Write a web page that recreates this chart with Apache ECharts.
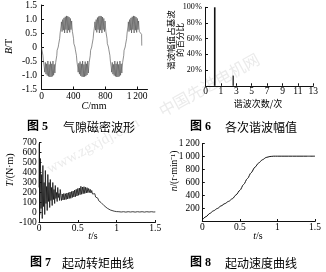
<!DOCTYPE html>
<html><head><meta charset="utf-8">
<script src="https://cdn.jsdelivr.net/npm/echarts@6/dist/echarts.min.js"></script>
<style>html,body{margin:0;padding:0;background:#fff}#c{width:326px;height:272px}</style>
</head><body><div id="c"></div>
<script>
// ---------- Fig.5 air-gap flux density B (T) vs circumference C (mm) ----------
const fluxC = [
  0,4,14,18,24,32,36,40,48,56,64,72,80,88,96,104,112,120,128,136,144,152,160,168,172,178,186,192,196,206,
  210,214,224,228,234,242,246,250,258,266,274,282,290,298,306,314,322,330,338,346,354,362,370,378,382,388,396,402,406,416,
  420,424,434,438,444,452,456,460,468,476,484,492,500,508,516,524,532,540,548,556,564,572,580,588,592,598,606,612,616,626,
  630,634,644,648,654,662,666,670,678,686,694,702,710,718,726,734,742,750,758,766,774,782,790,798,802,808,816,822,826,836,
  840,844,854,858,864,872,876,880,888,896,904,912,920,928,936,944,952,960,968,976,984,992,1000,1008,1012,1018,1026,1032,1036,1046,
  1050,1054,1064,1068,1074,1082,1086,1090,1098,1106,1114,1122,1130,1138,1146,1154,1162,1170,1178,1186,1194,1202,1210,1218,1222,1228,1236,1256,1258
];
const fluxB = [
  0,-0.08,-0.12,-0.3,-0.5,-0.55,-0.75,-0.9,-0.55,-0.97,-0.6,-1.02,-0.5,-1.05,-0.62,-1.07,-0.52,-1.07,-0.6,-1.05,-0.5,-1.01,-0.62,-0.93,-0.75,-0.55,-0.5,-0.3,-0.12,-0.08,
  0,0.08,0.12,0.3,0.5,0.55,0.75,0.9,0.55,0.98,0.6,1.04,0.5,1.08,0.62,1.11,0.5,1.1,0.6,1.07,0.52,1.02,0.62,0.93,0.75,0.55,0.5,0.3,0.12,0.08,
  0,-0.08,-0.12,-0.3,-0.5,-0.55,-0.75,-0.9,-0.58,-0.97,-0.52,-1.03,-0.6,-1.06,-0.5,-1.07,-0.62,-1.06,-0.52,-1.04,-0.6,-1.0,-0.5,-0.93,-0.75,-0.55,-0.5,-0.3,-0.12,-0.08,
  0,0.08,0.12,0.3,0.5,0.55,0.75,0.9,0.6,0.98,0.52,1.05,0.62,1.09,0.5,1.11,0.6,1.1,0.5,1.07,0.62,1.02,0.55,0.93,0.75,0.55,0.5,0.3,0.12,0.08,
  0,-0.08,-0.12,-0.3,-0.5,-0.55,-0.75,-0.9,-0.55,-0.97,-0.62,-1.02,-0.5,-1.05,-0.6,-1.07,-0.52,-1.07,-0.62,-1.05,-0.5,-1.01,-0.6,-0.93,-0.75,-0.55,-0.5,-0.3,-0.12,-0.08,
  0,0.08,0.12,0.3,0.5,0.55,0.75,0.9,0.55,0.98,0.6,1.04,0.5,1.08,0.62,1.11,0.5,1.1,0.6,1.07,0.52,1.02,0.62,0.93,0.75,0.55,0.5,0.45,0.05
];
const fluxCTicks = [0,400,800,1200];
const fluxCTickLabels = ['0','400','800','1\u2009200'];
const fluxBTicks = [-1.5,-1,-0.5,0,0.5,1,1.5];
const fluxBTickLabels = ['-1.5','-1.0','-0.5','0','0.5','1.0','1.5'];

// ---------- Fig.6 harmonic amplitude (% of fundamental) ----------
// bar positions in axis-slot units (slots labelled 0,1,3,5,...,13)
const harmonicSlots = [0.6, 1.8];
const harmonicPct = [101, 13];
const harmonicSlotTicks = [0,1,2,3,4,5,6,7];
const harmonicSlotLabels = ['0','1','3','5','7','9','11','13'];
const harmonicPctTicks = [20,40,60,80,100];
const harmonicPctLabels = ['20\u200a%','40\u200a%','60\u200a%','80\u200a%','100\u200a%'];

// ---------- Fig.7 starting torque T (N·m) vs t (s) ----------
const torqueT = [
  0,0.004,0.010,0.018,0.026,0.034,0.042,0.050,0.058,0.066,0.074,0.082,0.090,0.098,0.106,0.114,0.122,0.130,0.138,0.146,
  0.154,0.162,0.170,0.178,0.186,0.194,0.202,0.210,0.218,0.226,0.234,0.242,0.250,0.258,0.266,0.274,0.282,
  0.29,0.30,0.31,0.32,0.33,0.34,0.35,0.36,0.37,0.38,0.39,0.40,0.41,0.42,0.43,0.44,0.45,0.46,0.47,0.48,0.49,0.50,
  0.51,0.52,0.53,0.54,0.55,0.56,0.57,0.58,0.59,0.60,0.61,0.62,0.63,0.64,0.65,0.66,0.67,0.68,0.69,0.70,
  0.71,0.72,0.73,0.74,0.75,0.76,0.77,0.78,0.80,0.82,0.84,0.86,0.88,0.90,0.92,0.94,0.97,1.0,
  1.03,1.06,1.09,1.12,1.15,1.18,1.21,1.24,1.27,1.30,1.33,1.36,1.39,1.42,1.45,1.48,1.5
];
const torqueV = [
  250,690,-20,540,40,380,-60,470,60,300,-20,420,90,260,20,380,110,300,50,330,
  120,250,70,300,130,230,90,270,140,200,110,250,150,190,120,230,170,
  120,185,125,190,128,188,130,195,135,198,140,205,142,210,150,215,155,225,158,232,165,240,
  172,245,178,262,182,255,188,258,190,252,195,248,198,240,200,232,195,220,185,205,
  172,188,155,165,135,142,118,122,100,84,68,55,43,33,25,19,13,9,
  8,5,8,4,8,5,8,4,8,5,8,4,8,5,8,5,6
];
const timeTicks = [0,0.5,1,1.5];
const timeTickLabels = ['0','0.5','1','1.5'];
const torqueTicks = [-100,0,100,200,300,400,500,600,700];
const torqueTickLabels = ['-100','0','100','200','300','400','500','600','700'];

// ---------- Fig.8 starting speed n (r/min) vs t (s) ----------
const speedT = [0,0.05,0.1,0.15,0.2,0.25,0.3,0.35,0.4,0.45,0.5,0.55,0.6,0.65,0.7,0.75,0.8,0.85,0.9,0.95,1.0,1.1,1.2,1.3,1.4,1.5];
const speedN = [25,75,125,165,200,240,275,310,350,410,480,570,660,750,835,900,950,985,1000,1005,1005,1005,1005,1005,1005,1005];
const speedTicks = [200,400,600,800,1000,1200];
const speedTickLabels = ['200','400','600','800','1\u2009000','1\u2009200'];

// ---------- chart ----------
const SERIF = "'Liberation Serif','Noto Sans CJK SC'";
const CJK = "'Noto Sans CJK SC'";
const INK = '#111';

function lookup(ticks, labels){ return v => { const i = ticks.findIndex(t => Math.abs(t - v) < 1e-9); return i < 0 ? '' : labels[i]; }; }
function axis(gridIndex, min, max, ticks, labels, margin, size){
  return {
    type:'value', gridIndex, min, max,
    axisLine:{show:true, onZero:false, lineStyle:{color:INK, width:1}},
    axisTick:{show:true, inside:true, length:2.5, customValues:ticks, lineStyle:{color:INK, width:1}},
    splitLine:{show:false},
    axisLabel:{customValues:ticks, formatter:lookup(ticks, labels), color:'#000',
      fontFamily:'Liberation Serif', fontSize:size || 9.5, margin:margin}
  };
}
const zip = (a,b) => a.map((v,i) => [v, b[i]]);

function txt(x, y, text, o){
  o = o || {};
  return { type:'text', x, y, rotation:o.rot || 0, z:10, silent:true,
    style:{ text, fill:o.fill || '#000', fontSize:o.size || 10, fontFamily:o.family || SERIF,
      fontWeight:o.weight || 'normal', align:o.align || 'center', verticalAlign:'middle',
      lineHeight:o.lh, rich:{ i:{fontStyle:'italic', fontSize:o.size || 10, fontFamily:'Liberation Serif'} } } };
}

const chart = echarts.init(document.getElementById('c'), null, {renderer:'canvas'});
chart.setOption({
  animation:false,
  backgroundColor:'#fff',
  grid:[
    {left:41.5, top:5, width:106, height:84},
    {left:205.5, top:7.3, width:107.8, height:78.5},
    {left:39, top:142.5, width:116.3, height:80},
    {left:202.3, top:143.5, width:112.7, height:78}
  ],
  xAxis:[
    axis(0, 0, 1330, fluxCTicks, fluxCTickLabels, 2),
    axis(1, 0, 7, harmonicSlotTicks, harmonicSlotLabels, 0.5),
    axis(2, 0, 1.5, timeTicks, timeTickLabels, 1),
    axis(3, 0, 1.5, timeTicks, timeTickLabels, 1)
  ],
  yAxis:[
    axis(0, -1.5, 1.5, fluxBTicks, fluxBTickLabels, 4.5),
    axis(1, 0, 100, harmonicPctTicks, harmonicPctLabels, 3.5, 8),
    axis(2, -100, 700, torqueTicks, torqueTickLabels, 2.3),
    axis(3, 0, 1200, speedTicks, speedTickLabels, 2.6)
  ],
  series:[
    {type:'line', xAxisIndex:0, yAxisIndex:0, data:zip(fluxC, fluxB), showSymbol:false,
      lineStyle:{color:'#444', width:0.6}, z:3},
    {type:'bar', xAxisIndex:1, yAxisIndex:1, barWidth:1.6,
      data:zip(harmonicSlots, harmonicPct).map((d,i) => ({value:d, itemStyle:{color:i === 0 ? '#111' : '#444'}})), z:3},
    {type:'line', xAxisIndex:2, yAxisIndex:2, data:zip(torqueT, torqueV), showSymbol:false,
      lineStyle:{color:INK, width:0.8}, z:3},
    {type:'line', xAxisIndex:3, yAxisIndex:3, data:zip(speedT, speedN), showSymbol:false,
      smooth:0.3, smoothMonotone:'x', lineStyle:{color:INK, width:1}, z:3}
  ],
  graphic:[
    // faint watermark
    {type:'text', x:48, y:170, rotation:28*Math.PI/180, z:0, silent:true,
      style:{text:'www.zgxjdj.com', fill:'#ebebeb', fontSize:15, fontFamily:'Liberation Serif', align:'left', verticalAlign:'middle'}},
    {type:'text', x:160, y:112, rotation:29*Math.PI/180, z:0, silent:true,
      style:{text:'中国先进电机网', fill:'#ebebeb', fontSize:16, fontFamily:CJK, align:'left', verticalAlign:'middle'}},
    // axis names
    txt(9, 46.5, '{i|B}/T', {rot:Math.PI/2, size:10}),
    txt(94, 106, '{i|C}/mm', {size:10}),
    txt(175, 40, '谐波幅值占基波\n的百分比', {rot:Math.PI/2, size:8.5, family:CJK, lh:9}),
    txt(258, 104, '谐波次数/次', {size:9, family:CJK}),
    txt(10, 170, '{i|T}/(N·m)', {rot:Math.PI/2, size:10}),
    txt(93, 236, '{i|t}/s', {size:10}),
    txt(174, 171, '{i|n}/(r·min⁻¹)', {rot:Math.PI/2, size:9.5}),
    txt(258, 236, '{i|t}/s', {size:10}),
    // captions
    txt(27, 127, '图 5', {align:'left', size:12, weight:'bold'}),
    txt(63, 127, '气隙磁密波形', {align:'left', size:12, family:CJK}),
    txt(190, 127, '图 6', {align:'left', size:12, weight:'bold'}),
    txt(225, 127, '各次谐波幅值', {align:'left', size:12, family:CJK}),
    txt(30, 263, '图 7', {align:'left', size:12, weight:'bold'}),
    txt(62, 263, '起动转矩曲线', {align:'left', size:12, family:CJK}),
    txt(190, 263, '图 8', {align:'left', size:12, weight:'bold'}),
    txt(225, 263, '起动速度曲线', {align:'left', size:12, family:CJK})
  ]
});
</script></body></html>
